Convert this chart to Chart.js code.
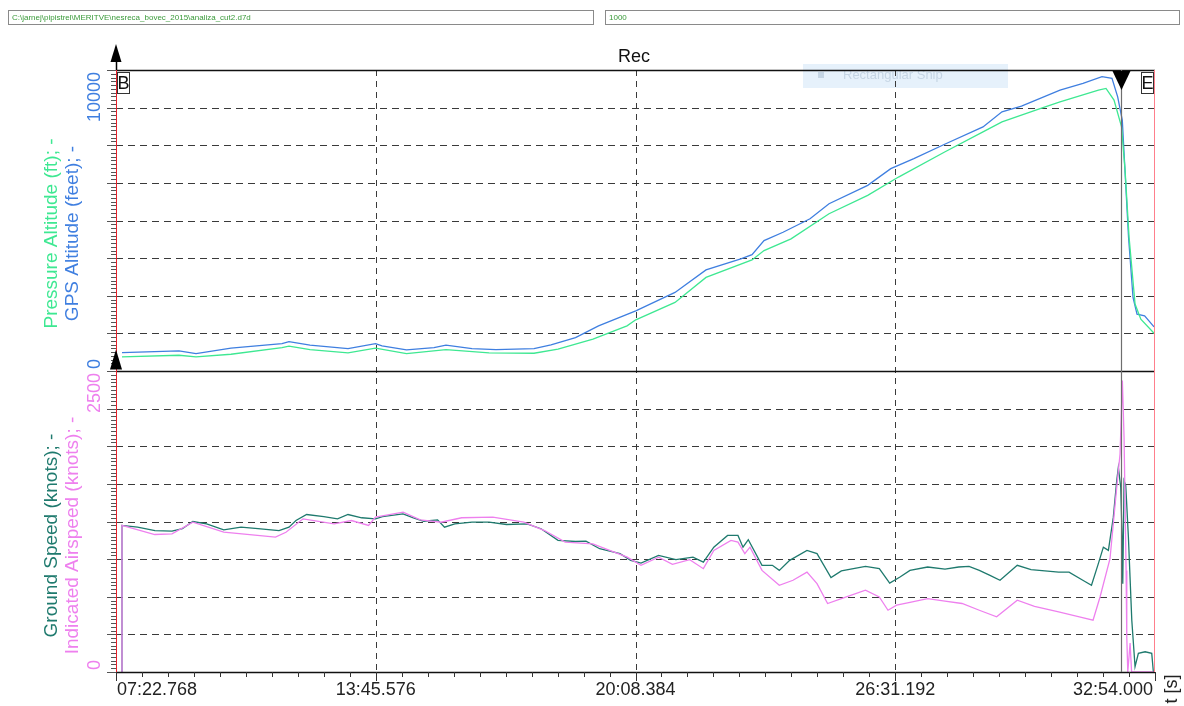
<!DOCTYPE html>
<html>
<head>
<meta charset="utf-8">
<title>Rec</title>
<script src="https://cdn.jsdelivr.net/npm/chart.js"></script>
<style>
  html, body { margin: 0; padding: 0; background: #fff; }
  #chart { display: block; }
</style>
</head>
<body>
<canvas id="chart" width="1184" height="706"></canvas>
<script>
// time axis, seconds
var tStart = 442.768;
var tEnd = 1974.0;
var cursorTime = 1924.6;
var timeTicks = [442.768, 825.576, 1208.384, 1591.192, 1974.0];
var timeTickLabels = ['07:22.768', '13:45.576', '20:08.384', '26:31.192', '32:54.000'];

// y ranges and grid
var altMax = 10000;
var spdMax = 2500;
var altGrid = [1250, 2500, 3750, 5000, 6250, 7500, 8750];
var spdGrid = [312.5, 625, 937.5, 1250, 1562.5, 1875, 2187.5];

// GPS Altitude (feet)
var gpsTime = [451.6, 535.6, 560.7, 612.2, 687.4, 697.7, 728.7, 784.7, 825.2, 834.8, 870.9, 911.4, 929.1, 967.4, 1002.8, 1058.8, 1083.8, 1120.0, 1153.9, 1208.8, 1266.6, 1312.3, 1363.6, 1380.1, 1397.8, 1425.8, 1465.6, 1493.6, 1550.6, 1584.6, 1618.6, 1664.0, 1720.5, 1748.5, 1777.2, 1834.0, 1867.9, 1895.9, 1910.6, 1919.0, 1925.8, 1929.2, 1935.0, 1941.6, 1947.5, 1958.7, 1972.6];
var gpsAlt = [610, 667, 577, 757, 910, 977, 857, 743, 910, 833, 700, 777, 857, 743, 710, 743, 867, 1110, 1500, 2000, 2610, 3357, 3723, 3867, 4333, 4610, 5057, 5557, 6167, 6723, 7057, 7533, 8110, 8610, 8800, 9333, 9557, 9777, 9723, 9110, 8333, 6900, 4443, 2443, 1890, 1833, 1467];

// Pressure Altitude (ft)
var pressTime = [451.6, 535.6, 560.7, 612.2, 687.4, 697.7, 728.7, 784.7, 825.2, 870.9, 929.1, 992.5, 1058.8, 1094.2, 1145.7, 1195.9, 1208.8, 1266.6, 1312.3, 1380.1, 1397.8, 1437.6, 1493.6, 1550.6, 1596.0, 1664.0, 1720.5, 1748.5, 1805.7, 1834.0, 1890.7, 1901.8, 1913.6, 1924.7, 1929.9, 1935.8, 1944.6, 1953.1, 1974.0];
var pressAlt = [467, 523, 467, 557, 777, 823, 710, 600, 757, 577, 710, 600, 590, 723, 1057, 1500, 1700, 2277, 3110, 3690, 4000, 4390, 5223, 5833, 6443, 7277, 7943, 8277, 8723, 8943, 9333, 9390, 9000, 8110, 6667, 4443, 2223, 1723, 1223];

// Ground Speed (knots)
var gsTime = [450.5, 451.6, 474.6, 500.2, 525.3, 540.6, 556.0, 576.3, 601.6, 627.0, 652.0, 683.0, 697.7, 708.0, 723.7, 749.0, 769.3, 784.7, 804.9, 825.2, 835.4, 865.7, 881.1, 896.4, 916.7, 926.9, 942.1, 967.4, 992.5, 1018.4, 1048.5, 1069.1, 1094.2, 1120.0, 1135.4, 1155.6, 1185.5, 1201.3, 1216.5, 1242.4, 1267.9, 1293.1, 1308.4, 1323.8, 1344.1, 1359.4, 1366.8, 1374.6, 1394.8, 1410.1, 1420.3, 1435.6, 1461.1, 1475.9, 1496.5, 1511.8, 1547.3, 1567.7, 1583.0, 1598.2, 1612.9, 1638.9, 1664.5, 1684.6, 1699.9, 1715.1, 1730.8, 1745.6, 1771.0, 1791.3, 1832.0, 1847.3, 1867.6, 1880.4, 1890.5, 1897.9, 1905.3, 1912.6, 1917.6, 1920.0, 1923.5, 1925.5, 1926.5, 1928.4, 1930.9, 1934.8, 1939.8, 1944.6, 1949.5, 1959.4, 1969.2, 1971.6];
var groundSpeed = [0, 1217, 1203, 1175, 1170, 1190, 1250, 1231, 1181, 1203, 1190, 1175, 1203, 1258, 1308, 1291, 1272, 1308, 1281, 1272, 1291, 1314, 1281, 1252, 1264, 1203, 1231, 1244, 1244, 1225, 1231, 1190, 1093, 1084, 1087, 1024, 983, 927, 905, 969, 933, 954, 913, 1037, 1134, 1134, 1037, 1099, 886, 886, 844, 927, 1010, 983, 784, 839, 877, 858, 739, 789, 844, 872, 855, 872, 877, 844, 803, 762, 886, 850, 830, 830, 762, 720, 900, 1037, 1010, 1286, 1589, 1699, 1534, 1120, 734, 1589, 1548, 1120, 430, 44, 155, 168, 155, 0];

// Indicated Airspeed (knots)
var iasTime = [450.5, 451.6, 499.9, 525.3, 556.0, 601.6, 677.8, 693.2, 718.5, 764.2, 789.7, 815.0, 825.2, 865.9, 891.2, 921.7, 952.2, 998.1, 1043.8, 1074.3, 1104.8, 1145.5, 1196.2, 1216.5, 1242.4, 1262.8, 1288.3, 1308.4, 1323.8, 1349.1, 1359.4, 1369.5, 1377.1, 1394.8, 1420.3, 1440.5, 1461.1, 1475.9, 1491.5, 1511.8, 1547.3, 1567.7, 1580.5, 1593.2, 1612.9, 1638.9, 1664.5, 1689.6, 1715.1, 1740.6, 1771.0, 1796.4, 1832.0, 1862.5, 1882.7, 1893.0, 1907.7, 1917.6, 1922.5, 1925.9, 1928.4, 1931.4, 1932.4, 1933.9, 1937.3, 1939.5, 1971.9];
var airspeed = [0, 1217, 1142, 1148, 1244, 1161, 1120, 1161, 1272, 1231, 1258, 1217, 1286, 1327, 1264, 1244, 1281, 1286, 1244, 1175, 1079, 1065, 954, 886, 954, 894, 933, 858, 1010, 1093, 1079, 983, 1037, 844, 720, 762, 830, 734, 569, 610, 679, 623, 513, 555, 579, 610, 588, 569, 513, 458, 596, 546, 499, 458, 430, 623, 941, 1534, 1810, 2420, 1948, 844, 292, 0, 240, 0, 0];

var gpsColor = '#3f7fe0';
var pressColor = '#3ee892';
var gsColor = '#1f7a6e';
var iasColor = '#ee80ee';
var font = 'Arial, "Liberation Sans", sans-serif';

function pts(ts, vs) {
    return ts.map(function(t, i) { return {x: t, y: vs[i]}; });
}

function line(ctx, x1, y1, x2, y2) {
    ctx.beginPath();
    ctx.moveTo(x1, y1);
    ctx.lineTo(x2, y2);
    ctx.stroke();
}

function vText(ctx, text, x, y, align, color, size) {
    ctx.save();
    ctx.translate(x, y);
    ctx.rotate(-Math.PI / 2);
    ctx.fillStyle = color;
    ctx.font = size + 'px ' + font;
    ctx.textAlign = align;
    ctx.textBaseline = 'middle';
    ctx.fillText(text, 0, 0);
    ctx.restore();
}

var decor = {
    id: 'decor',
    beforeDraw: function(chart) {
        var ctx = chart.ctx;
        ctx.save();
        // file path boxes
        ctx.fillStyle = '#fff';
        ctx.strokeStyle = '#8a8a8a';
        ctx.lineWidth = 1;
        ctx.fillRect(8.5, 10.5, 585, 14);
        ctx.strokeRect(8.5, 10.5, 585, 14);
        ctx.fillRect(605.5, 10.5, 574, 14);
        ctx.strokeRect(605.5, 10.5, 574, 14);
        ctx.fillStyle = '#3a9a3a';
        ctx.font = '8px ' + font;
        ctx.textBaseline = 'middle';
        ctx.fillText('C:\\jarnej\\pipistrel\\MERITVE\\nesreca_bovec_2015\\analiza_cut2.d7d', 12, 18);
        ctx.fillText('1000', 609, 18);
        // title
        ctx.fillStyle = '#111';
        ctx.font = '18px ' + font;
        ctx.textAlign = 'center';
        ctx.fillText('Rec', 634, 57);
        ctx.restore();
    },
    beforeDatasetsDraw: function(chart) {
        var ctx = chart.ctx, a = chart.chartArea;
        var sx = chart.scales.x, ya = chart.scales.alt, ys = chart.scales.spd;
        ctx.save();
        // snip overlay ghost
        ctx.fillStyle = 'rgba(205,228,248,0.5)';
        ctx.fillRect(803, 64, 205, 24);
        ctx.fillStyle = 'rgba(150,172,196,0.4)';
        ctx.font = '13px ' + font;
        ctx.textBaseline = 'middle';
        ctx.fillText('Rectangular Snip', 843, 75);
        ctx.fillRect(818, 72, 6, 6);

        ctx.strokeStyle = '#3a3a3a';
        ctx.lineWidth = 1;
        ctx.setLineDash([7, 5]);
        altGrid.forEach(function(v) {
            var py = Math.round(ya.getPixelForValue(v)) + 0.5;
            line(ctx, a.left, py, a.right, py);
        });
        spdGrid.forEach(function(v) {
            var py = Math.round(ys.getPixelForValue(v)) + 0.5;
            line(ctx, a.left, py, a.right, py);
        });
        ctx.setLineDash([6, 5]);
        timeTicks.slice(1, -1).forEach(function(v) {
            var px = Math.round(sx.getPixelForValue(v)) + 0.5;
            line(ctx, px, a.top, px, a.bottom);
        });
        ctx.restore();
    },
    afterDatasetsDraw: function(chart) {
        var ctx = chart.ctx, a = chart.chartArea;
        var sx = chart.scales.x, ya = chart.scales.alt, ys = chart.scales.spd;
        var mid = Math.round(ya.getPixelForValue(0)) + 0.5;
        ctx.save();

        // frame
        ctx.strokeStyle = '#111';
        ctx.lineWidth = 1.5;
        line(ctx, a.left, a.top + 0.5, a.right, a.top + 0.5);
        line(ctx, a.left, mid, a.right, mid);
        line(ctx, a.left, a.bottom + 0.5, a.right, a.bottom + 0.5);

        // left axis minor / major ticks
        ctx.lineWidth = 1;
        ctx.strokeStyle = '#555';
        for (var v = 0; v <= altMax; v += altMax / 80) {
            var py = Math.round(ya.getPixelForValue(v)) + 0.5;
            var major = Math.abs(v % (altMax / 8)) < 1e-6;
            line(ctx, a.left - (major ? 9 : 5), py, a.left, py);
        }
        for (var w = 0; w <= spdMax; w += spdMax / 80) {
            var qy = Math.round(ys.getPixelForValue(w)) + 0.5;
            var maj = Math.abs(w % (spdMax / 8)) < 1e-6;
            line(ctx, a.left - (maj ? 9 : 5), qy, a.left, qy);
        }

        // bottom axis ticks
        ctx.strokeStyle = '#333';
        var step = (tEnd - tStart) / 40;
        for (var i = 0; i <= 40; i++) {
            var px = Math.round(sx.getPixelForValue(tStart + i * step)) + 0.5;
            line(ctx, px, a.bottom, px, a.bottom + (i % 10 === 0 ? 9 : 5));
        }

        // red left and right borders
        ctx.strokeStyle = '#e8202a';
        ctx.lineWidth = 1;
        line(ctx, a.left + 0.5, a.top, a.left + 0.5, a.bottom);
        ctx.strokeStyle = '#ff7f8c';
        line(ctx, a.right - 0.5, a.top, a.right - 0.5, a.bottom);

        // cursor
        var cx = Math.round(sx.getPixelForValue(cursorTime)) + 0.5;
        ctx.strokeStyle = '#6e6e6e';
        ctx.lineWidth = 1.2;
        line(ctx, cx, a.top, cx, a.bottom);
        ctx.fillStyle = '#000';
        ctx.beginPath();
        ctx.moveTo(cx - 9, a.top + 1);
        ctx.lineTo(cx + 9, a.top + 1);
        ctx.lineTo(cx, a.top + 20);
        ctx.closePath();
        ctx.fill();

        // up arrows on the left axis
        ctx.beginPath();
        ctx.moveTo(a.left, 44);
        ctx.lineTo(a.left - 5.5, 62);
        ctx.lineTo(a.left + 5.5, 62);
        ctx.closePath();
        ctx.fill();
        ctx.strokeStyle = '#000';
        ctx.lineWidth = 1.5;
        line(ctx, a.left + 0.5, 60, a.left + 0.5, a.top);
        ctx.beginPath();
        ctx.moveTo(a.left, mid - 22);
        ctx.lineTo(a.left - 6, mid - 2);
        ctx.lineTo(a.left + 6, mid - 2);
        ctx.closePath();
        ctx.fill();

        // B / E boxes
        ctx.lineWidth = 1;
        ctx.strokeStyle = '#333';
        ctx.fillStyle = '#fff';
        var bx = Math.round(sx.getPixelForValue(tStart));
        var ex = Math.round(sx.getPixelForValue(tEnd));
        ctx.fillRect(bx + 1.5, a.top + 2.5, 12, 21);
        ctx.strokeRect(bx + 1.5, a.top + 2.5, 12, 21);
        ctx.fillRect(ex - 13.5, a.top + 2.5, 12, 21);
        ctx.strokeRect(ex - 13.5, a.top + 2.5, 12, 21);
        ctx.fillStyle = '#111';
        ctx.font = '18px ' + font;
        ctx.textAlign = 'center';
        ctx.textBaseline = 'middle';
        ctx.fillText('B', bx + 7.5, a.top + 14);
        ctx.fillText('E', ex - 7.5, a.top + 14);

        // x tick labels
        ctx.font = '18px ' + font;
        ctx.fillStyle = '#222';
        timeTicks.forEach(function(t, k) {
            var lx = sx.getPixelForValue(t);
            ctx.textAlign = k === 0 ? 'left' : (k === timeTicks.length - 1 ? 'right' : 'center');
            ctx.fillText(timeTickLabels[k], lx + (k === 0 ? 1 : (k === timeTicks.length - 1 ? -2 : 0)), 690);
        });
        vText(ctx, 't [s]', 1172, 689, 'center', '#222', 18);

        // y tick labels
        vText(ctx, String(altMax), 95, ya.getPixelForValue(altMax) + 2, 'right', gpsColor, 18);
        vText(ctx, '0', 95, ya.getPixelForValue(0) - 2, 'left', gpsColor, 18);
        vText(ctx, String(spdMax), 95, ys.getPixelForValue(spdMax) + 2, 'right', iasColor, 18);
        vText(ctx, '0', 95, ys.getPixelForValue(0) - 2, 'left', iasColor, 18);

        // axis titles
        var altMid = (ya.top + ya.bottom) / 2 + 13;
        var spdMid = (ys.top + ys.bottom) / 2 + 14;
        vText(ctx, 'Pressure Altitude (ft); -', 52, altMid, 'center', pressColor, 19);
        vText(ctx, 'GPS Altitude (feet); -', 73, altMid, 'center', gpsColor, 19);
        vText(ctx, 'Ground Speed (knots); -', 52, spdMid, 'center', gsColor, 19);
        vText(ctx, 'Indicated Airspeed (knots); -', 73, spdMid, 'center', iasColor, 19);

        ctx.restore();
    }
};

var hidden = {
    ticks: { display: false },
    grid: { display: false, drawTicks: false },
    border: { display: false }
};

var chart = new Chart(document.getElementById('chart').getContext('2d'), {
    type: 'line',
    data: {
        datasets: [
            { label: 'Pressure Altitude', data: pts(pressTime, pressAlt), yAxisID: 'alt', borderColor: pressColor, borderWidth: 1.3 },
            { label: 'GPS Altitude', data: pts(gpsTime, gpsAlt), yAxisID: 'alt', borderColor: gpsColor, borderWidth: 1.3 },
            { label: 'Indicated Airspeed', data: pts(iasTime, airspeed), yAxisID: 'spd', borderColor: iasColor, borderWidth: 1.3 },
            { label: 'Ground Speed', data: pts(gsTime, groundSpeed), yAxisID: 'spd', borderColor: gsColor, borderWidth: 1.3 }
        ]
    },
    options: {
        responsive: false,
        animation: false,
        devicePixelRatio: 1,
        elements: { point: { radius: 0 }, line: { tension: 0 } },
        layout: { padding: { left: 116, right: 29, top: 70, bottom: 34 } },
        plugins: { legend: { display: false }, tooltip: { enabled: false } },
        scales: {
            x: Object.assign({ type: 'linear', min: tStart, max: tEnd }, hidden),
            spd: Object.assign({ type: 'linear', position: 'left', stack: 'panels', stackWeight: 1, min: 0, max: spdMax }, hidden),
            alt: Object.assign({ type: 'linear', position: 'left', stack: 'panels', stackWeight: 1, min: 0, max: altMax }, hidden)
        }
    },
    plugins: [decor]
});
</script>
</body>
</html>
